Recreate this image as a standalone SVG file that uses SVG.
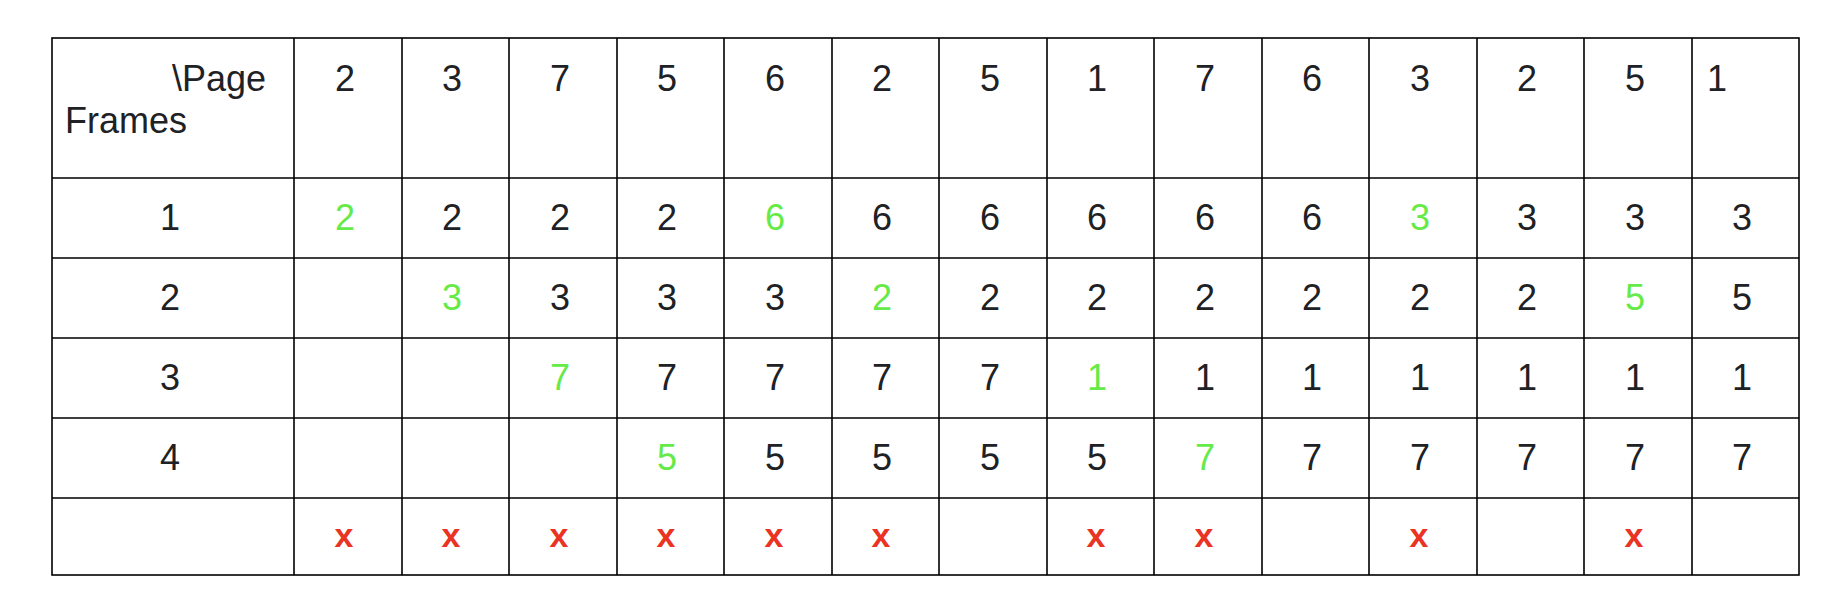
<svg xmlns="http://www.w3.org/2000/svg" width="1828" height="610" viewBox="0 0 1828 610">
<style>
text{font-family:"Liberation Sans",Arial,Helvetica,sans-serif;font-size:36px;fill:#202124}
.c{text-anchor:middle}
.g{fill:#66ea48}
.r{fill:#ea3323;font-weight:bold;font-size:34px}
.ln{stroke:#000;stroke-width:1.6;fill:none}
</style>
<rect width="1828" height="610" fill="#fff"/>
<g id="grid" class="ln">
<rect x="52" y="38" width="1747" height="537"/>
<path d="M52 178H1799M52 258H1799M52 338H1799M52 418H1799M52 498H1799"/>
<path d="M294 38V575M402 38V575M509 38V575M617 38V575M724 38V575M832 38V575M939 38V575M1047 38V575M1154 38V575M1262 38V575M1369 38V575M1477 38V575M1584 38V575M1692 38V575"/>
</g>
<g id="header">
<text x="266" y="91" text-anchor="end">\Page</text>
<text x="65" y="133">Frames</text>
<g class="c">
<text x="345" y="91">2</text>
<text x="452" y="91">3</text>
<text x="560" y="91">7</text>
<text x="667" y="91">5</text>
<text x="775" y="91">6</text>
<text x="882" y="91">2</text>
<text x="990" y="91">5</text>
<text x="1097" y="91">1</text>
<text x="1205" y="91">7</text>
<text x="1312" y="91">6</text>
<text x="1420" y="91">3</text>
<text x="1527" y="91">2</text>
<text x="1635" y="91">5</text>
</g>
<text x="1707" y="91">1</text>
</g>
<g id="row1" class="c">
<text x="170" y="230">1</text>
<text x="345" y="230" class="g">2</text>
<text x="452" y="230">2</text>
<text x="560" y="230">2</text>
<text x="667" y="230">2</text>
<text x="775" y="230" class="g">6</text>
<text x="882" y="230">6</text>
<text x="990" y="230">6</text>
<text x="1097" y="230">6</text>
<text x="1205" y="230">6</text>
<text x="1312" y="230">6</text>
<text x="1420" y="230" class="g">3</text>
<text x="1527" y="230">3</text>
<text x="1635" y="230">3</text>
<text x="1742" y="230">3</text>
</g>
<g id="row2" class="c">
<text x="170" y="310">2</text>
<text x="452" y="310" class="g">3</text>
<text x="560" y="310">3</text>
<text x="667" y="310">3</text>
<text x="775" y="310">3</text>
<text x="882" y="310" class="g">2</text>
<text x="990" y="310">2</text>
<text x="1097" y="310">2</text>
<text x="1205" y="310">2</text>
<text x="1312" y="310">2</text>
<text x="1420" y="310">2</text>
<text x="1527" y="310">2</text>
<text x="1635" y="310" class="g">5</text>
<text x="1742" y="310">5</text>
</g>
<g id="row3" class="c">
<text x="170" y="390">3</text>
<text x="560" y="390" class="g">7</text>
<text x="667" y="390">7</text>
<text x="775" y="390">7</text>
<text x="882" y="390">7</text>
<text x="990" y="390">7</text>
<text x="1097" y="390" class="g">1</text>
<text x="1205" y="390">1</text>
<text x="1312" y="390">1</text>
<text x="1420" y="390">1</text>
<text x="1527" y="390">1</text>
<text x="1635" y="390">1</text>
<text x="1742" y="390">1</text>
</g>
<g id="row4" class="c">
<text x="170" y="470">4</text>
<text x="667" y="470" class="g">5</text>
<text x="775" y="470">5</text>
<text x="882" y="470">5</text>
<text x="990" y="470">5</text>
<text x="1097" y="470">5</text>
<text x="1205" y="470" class="g">7</text>
<text x="1312" y="470">7</text>
<text x="1420" y="470">7</text>
<text x="1527" y="470">7</text>
<text x="1635" y="470">7</text>
<text x="1742" y="470">7</text>
</g>
<g id="row5" class="c">
<text x="344" y="547" class="r">x</text>
<text x="451" y="547" class="r">x</text>
<text x="559" y="547" class="r">x</text>
<text x="666" y="547" class="r">x</text>
<text x="774" y="547" class="r">x</text>
<text x="881" y="547" class="r">x</text>
<text x="1096" y="547" class="r">x</text>
<text x="1204" y="547" class="r">x</text>
<text x="1419" y="547" class="r">x</text>
<text x="1634" y="547" class="r">x</text>
</g>
</svg>
